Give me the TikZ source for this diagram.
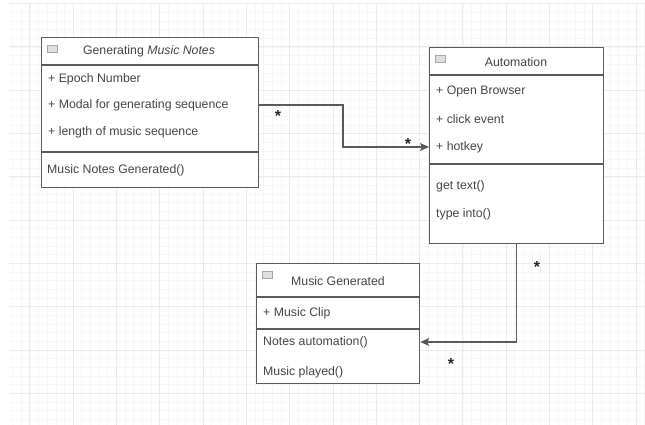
\documentclass[tikz,border=0pt]{standalone}
\usepackage{fontspec}
\setmainfont{Liberation Sans}
\usetikzlibrary{arrows.meta,calc}

\definecolor{linecol}{HTML}{5A5A5A}
\definecolor{txtcol}{HTML}{454545}

\tikzset{
  box/.style={draw=linecol, line width=1.3pt, anchor=north west, inner sep=0pt},
  sep/.style={draw=linecol, line width=1.3pt},
  txt/.style={anchor=west, inner sep=0pt, text=txtcol, font=\fontsize{12.3}{14}\selectfont},
  ttl/.style={anchor=center, inner sep=0pt, text=txtcol, font=\fontsize{12.3}{14}\selectfont},
  conn/.style={draw=linecol, line width=1.3pt, -{Stealth[length=9pt,width=8pt,inset=2pt]}},
  mult/.style={inner sep=0pt, text=black!85, font=\bfseries\fontsize{16}{16}\selectfont},
  icon/.style={draw=gray!70, fill=gray!25, line width=0.6pt},
  minorgrid/.style={draw=gray!7, line width=0.4pt},
  majorgrid/.style={draw=gray!16, line width=0.6pt}
}

\begin{document}
\begin{tikzpicture}[x=1pt, y=-1pt]
  \useasboundingbox (0,0) rectangle (645,425);
  \fill[white] (0,0) rectangle (645,425);

  % background grid
  \foreach \i in {0,...,73}
    \draw[minorgrid] ({12.4+8.66*\i},4) -- ({12.4+8.66*\i},425);
  \foreach \i in {0,...,48}
    \draw[minorgrid] (9,{3.5+8.66*\i}) -- (645,{3.5+8.66*\i});
  \foreach \i in {0,...,14}
    \draw[majorgrid] ({29.7+43.3*\i},4) -- ({29.7+43.3*\i},425);
  \foreach \i in {0,...,9}
    \draw[majorgrid] (9,{3.5+43.3*\i}) -- (645,{3.5+43.3*\i});

  % Generating Music Notes
  \node[box, fill=white, minimum width=217pt, minimum height=150pt] (gen) at (41,37) {};
  \draw[sep] (41,65) -- (258,65);
  \draw[sep] (41,152) -- (258,152);
  \draw[icon] (47,45) rectangle (57,52);
  \node[ttl] (gen-t) at (149,51) {Generating \textit{Music Notes}};
  \node[txt] (gen-a1) at (48,79) {+ Epoch Number};
  \node[txt] (gen-a2) at (48,105) {+ Modal for generating sequence};
  \node[txt] (gen-a3) at (48,132) {+ length of music sequence};
  \node[txt] (gen-m1) at (47,170) {Music Notes Generated()};

  % Automation
  \node[box, fill=white, minimum width=174pt, minimum height=196pt] (auto) at (429,47) {};
  \draw[sep] (429,75) -- (603,75);
  \draw[sep] (429,164) -- (603,164);
  \draw[icon] (435,55) rectangle (445,62);
  \node[ttl] (auto-t) at (516,62) {Automation};
  \node[txt] (auto-a1) at (436,91) {+ Open Browser};
  \node[txt] (auto-a2) at (436,119) {+ click event};
  \node[txt] (auto-a3) at (436,147) {+ hotkey};
  \node[txt] (auto-m1) at (436,186) {get text()};
  \node[txt] (auto-m2) at (436,214) {type into()};

  % Music Generated
  \node[box, fill=white, minimum width=163pt, minimum height=120pt] (mg) at (256,263) {};
  \draw[sep] (256,297) -- (419,297);
  \draw[sep] (256,329) -- (419,329);
  \draw[icon] (262,271) rectangle (272,278);
  \node[ttl] (mg-t) at (338,281) {Music Generated};
  \node[txt] (mg-a1) at (263,313) {+ Music Clip};
  \node[txt] (mg-m1) at (263,342) {Notes automation()};
  \node[txt] (mg-m2) at (263,372) {Music played()};

  % connectors
  \draw[conn] (gen.east |- gen-a2) -- (343,105) |- (auto.west |- auto-a3);
  \draw[conn] (auto.south) |- (mg.east |- mg-m1);

  % multiplicities
  \node[mult] (m1) at (278,116) {*};
  \node[mult] (m2) at (408,144) {*};
  \node[mult] (m3) at (537,267) {*};
  \node[mult] (m4) at (451,364) {*};
\end{tikzpicture}
\end{document}
